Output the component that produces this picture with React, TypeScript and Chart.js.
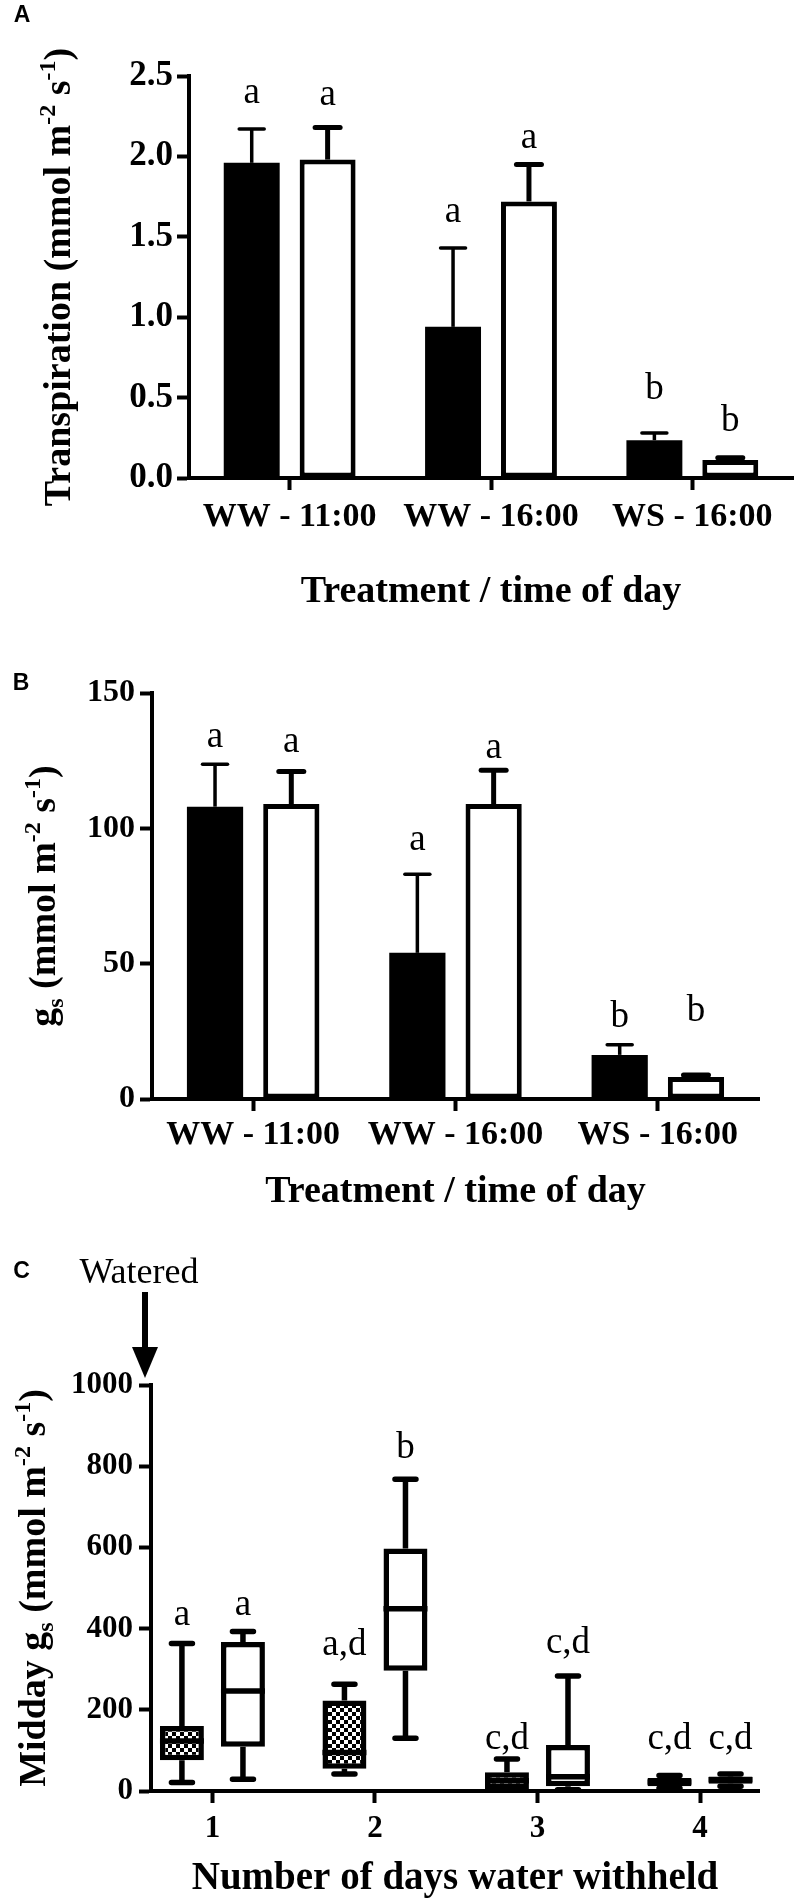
import React, { useEffect, useRef } from "react";
import { Chart, registerables } from "chart.js";

Chart.register(...registerables);

const SERIF = '"Liberation Serif", "Times New Roman", Times, serif';
const SANS = '"Liberation Sans", Arial, Helvetica, sans-serif';

// ---------- Panel A: transpiration ----------
const treatmentLabels = ["WW - 11:00", "WW - 16:00", "WS - 16:00"];
const transpFilled = [1.96, 0.94, 0.235];
const transpFilledSem = [0.21, 0.49, 0.045];
const transpOpen = [1.98, 1.72, 0.112];
const transpOpenSem = [0.2, 0.23, 0.014];
const transpFilledLetters = ["a", "a", "b"];
const transpOpenLetters = ["a", "a", "b"];
const transpFilledLetterY = [2.39, 1.65, 0.55];
const transpOpenLetterY = [2.38, 2.115, 0.35];

// ---------- Panel B: stomatal conductance ----------
const gsFilled = [108, 54, 16.3];
const gsFilledSem = [15.7, 29, 3.7];
const gsOpen = [109, 109, 8.1];
const gsOpenSem = [12, 12.5, 0.8];
const gsFilledLetters = ["a", "a", "b"];
const gsOpenLetters = ["a", "a", "b"];
const gsFilledLetterY = [133.7, 95.7, 30.3];
const gsOpenLetterY = [131.9, 129.7, 32.3];

// ---------- Panel C: midday gs box plots ----------
const dayValues = [1, 2, 3, 4];
const hatchMin = [21, 42, 2, 7];
const hatchQ1 = [76, 55, 5, 12];
const hatchMed = [123, 95, 25, 22];
const hatchQ3 = [160, 223, 46, 32];
const hatchMax = [363, 263, 79, 38];
const hatchLetters = ["a", "a,d", "c,d", "c,d"];
const hatchLetterY = [432, 359, 128, 128];

const openMin = [29, 130, 3, 12];
const openQ1 = [109, 296, 12, 18];
const openMed = [246, 449, 35, 28];
const openQ3 = [367, 597, 113, 36];
const openMax = [393, 768, 283, 42];
const openLetters = ["a", "b", "c,d", "c,d"];
const openLetterY = [457, 843, 365, 128];

type Seg = { t: string; k?: "sup" | "sub" };

const titleA: Seg[] = [
  { t: "Transpiration (mmol m" },
  { t: "-2", k: "sup" },
  { t: " s" },
  { t: "-1", k: "sup" },
  { t: ")" },
];
const titleB: Seg[] = [
  { t: "g" },
  { t: "s", k: "sub" },
  { t: " (mmol m" },
  { t: "-2", k: "sup" },
  { t: " s" },
  { t: "-1", k: "sup" },
  { t: ")" },
];
const titleC: Seg[] = [
  { t: "Midday g" },
  { t: "s", k: "sub" },
  { t: " (mmol m" },
  { t: "-2", k: "sup" },
  { t: " s" },
  { t: "-1", k: "sup" },
  { t: ")" },
];

function drawRotatedRich(ctx: any, segs: Seg[], bx: number, cy: number, size: number) {
  ctx.save();
  ctx.translate(bx, cy);
  ctx.rotate(-Math.PI / 2);
  ctx.fillStyle = "#000";
  ctx.textBaseline = "alphabetic";
  ctx.textAlign = "left";
  const fontFor = (s: Seg) => `bold ${s.k ? Math.round(size * 0.62) : size}px ${SERIF}`;
  let total = 0;
  for (const s of segs) {
    ctx.font = fontFor(s);
    total += ctx.measureText(s.t).width;
  }
  let x = -total / 2;
  for (const s of segs) {
    ctx.font = fontFor(s);
    const dy = s.k === "sup" ? -size * 0.4 : s.k === "sub" ? size * 0.2 : 0;
    ctx.fillText(s.t, x, dy);
    x += ctx.measureText(s.t).width;
  }
  ctx.restore();
}

function drawPanelLabel(ctx: any, text: string, x: number, y: number) {
  ctx.save();
  ctx.fillStyle = "#000";
  ctx.font = `bold 23px ${SANS}`;
  ctx.textAlign = "center";
  ctx.textBaseline = "middle";
  ctx.fillText(text, x, y);
  ctx.restore();
}

function axisGrid(tickLen: number) {
  return {
    display: true,
    drawOnChartArea: false,
    offset: false,
    drawTicks: true,
    tickLength: tickLen,
    tickWidth: 4,
    tickColor: "#000",
    color: "#000",
  };
}
const axisBorder = { display: true, color: "#000", width: 4 };

interface BarPanel {
  canvasH: number;
  area: { left: number; top: number; right: number; bottom: number };
  filled: number[];
  filledSem: number[];
  open: number[];
  openSem: number[];
  filledLetters: string[];
  openLetters: string[];
  filledLetterY: number[];
  openLetterY: number[];
  yMax: number;
  yStep: number;
  decimals: number;
  yTickSize: number;
  yTickPad: number;
  xLabelPad: number;
  xTitlePad: number;
  yTitle: Seg[];
  yTitleX: number;
  panel: string;
  panelX: number;
  panelY: number;
}

function barChartConfig(p: BarPanel): any {
  const annot = {
    id: "annot",
    afterDatasetsDraw(chart: any) {
      const ctx = chart.ctx;
      const ys = chart.scales.y;
      const sets = [
        { vals: p.filled, sem: p.filledSem, lw: 3.5, letters: p.filledLetters, ly: p.filledLetterY },
        { vals: p.open, sem: p.openSem, lw: 5, letters: p.openLetters, ly: p.openLetterY },
      ];
      sets.forEach((s, di) => {
        const meta = chart.getDatasetMeta(di);
        meta.data.forEach((el: any, i: number) => {
          const x = el.x;
          const yTop = ys.getPixelForValue(s.vals[i]);
          const yCap = ys.getPixelForValue(s.vals[i] + s.sem[i]);
          ctx.save();
          ctx.strokeStyle = "#000";
          ctx.lineWidth = s.lw;
          ctx.lineCap = "butt";
          ctx.beginPath();
          ctx.moveTo(x, yTop);
          ctx.lineTo(x, yCap);
          ctx.stroke();
          ctx.lineCap = "round";
          ctx.beginPath();
          ctx.moveTo(x - 12.5, yCap);
          ctx.lineTo(x + 12.5, yCap);
          ctx.stroke();
          ctx.fillStyle = "#000";
          ctx.font = `37px ${SERIF}`;
          ctx.textAlign = "center";
          ctx.textBaseline = "middle";
          ctx.fillText(s.letters[i], x, ys.getPixelForValue(s.ly[i]));
          ctx.restore();
        });
      });
    },
    afterDraw(chart: any) {
      const a = chart.chartArea;
      drawRotatedRich(chart.ctx, p.yTitle, p.yTitleX, (a.top + a.bottom) / 2, 38);
      drawPanelLabel(chart.ctx, p.panel, p.panelX, p.panelY);
    },
  };

  return {
    type: "bar",
    data: {
      labels: treatmentLabels,
      datasets: [
        {
          data: p.filled,
          backgroundColor: "#000",
          borderColor: "#000",
          borderWidth: 0,
          categoryPercentage: 0.754,
          barPercentage: 0.737,
        },
        {
          data: p.open,
          backgroundColor: "#fff",
          borderColor: "#000",
          borderWidth: 5,
          borderSkipped: false,
          categoryPercentage: 0.754,
          barPercentage: 0.737,
        },
      ],
    },
    options: {
      responsive: false,
      animation: false,
      devicePixelRatio: 1,
      layout: { padding: { left: 0, top: p.area.top, right: 800 - p.area.right, bottom: 0 } },
      plugins: { legend: { display: false }, tooltip: { enabled: false }, title: { display: false } },
      scales: {
        x: {
          type: "category",
          offset: true,
          afterFit: (s: any) => {
            s.height = p.canvasH - p.area.bottom;
          },
          grid: axisGrid(12),
          border: axisBorder,
          ticks: {
            color: "#000",
            padding: p.xLabelPad,
            maxRotation: 0,
            autoSkip: false,
            font: { family: SERIF, size: 34, weight: "bold", lineHeight: 1 },
          },
          title: {
            display: true,
            text: "Treatment / time of day",
            color: "#000",
            font: { family: SERIF, size: 38, weight: "bold", lineHeight: 1 },
            padding: { top: 0, bottom: p.xTitlePad },
          },
        },
        y: {
          type: "linear",
          min: 0,
          max: p.yMax,
          afterFit: (s: any) => {
            s.width = p.area.left;
          },
          grid: axisGrid(12),
          border: axisBorder,
          ticks: {
            stepSize: p.yStep,
            color: "#000",
            padding: p.yTickPad,
            font: { family: SERIF, size: p.yTickSize, weight: "bold", lineHeight: 1 },
            callback: (v: any) => Number(v).toFixed(p.decimals),
          },
        },
      },
    },
    plugins: [annot],
  };
}

function makeChecker(): any {
  const c = document.createElement("canvas");
  c.width = 8;
  c.height = 8;
  const g = c.getContext("2d")!;
  g.fillStyle = "#fff";
  g.fillRect(0, 0, 8, 8);
  g.fillStyle = "#000";
  g.fillRect(0, 0, 4, 4);
  g.fillRect(4, 4, 4, 4);
  return g.createPattern(c, "repeat") || "#888";
}

function boxChartConfig(): any {
  const canvasH = 663;
  const area = { left: 151, top: 145, right: 759, bottom: 551 };
  const annot = {
    id: "boxAnnot",
    afterDatasetsDraw(chart: any) {
      const ctx = chart.ctx;
      const ys = chart.scales.y;
      const sets = [
        { min: hatchMin, q1: hatchQ1, med: hatchMed, q3: hatchQ3, max: hatchMax, letters: hatchLetters, ly: hatchLetterY },
        { min: openMin, q1: openQ1, med: openMed, q3: openQ3, max: openMax, letters: openLetters, ly: openLetterY },
      ];
      sets.forEach((s, di) => {
        const meta = chart.getDatasetMeta(di);
        meta.data.forEach((el: any, i: number) => {
          const x = el.x;
          const w = el.width;
          const yMin = ys.getPixelForValue(s.min[i]);
          const yQ1 = ys.getPixelForValue(s.q1[i]);
          const yMed = ys.getPixelForValue(s.med[i]);
          const yQ3 = ys.getPixelForValue(s.q3[i]);
          const yMax = ys.getPixelForValue(s.max[i]);
          ctx.save();
          ctx.strokeStyle = "#000";
          ctx.lineWidth = 5.5;
          ctx.lineCap = "butt";
          ctx.beginPath();
          ctx.moveTo(x, yQ3);
          ctx.lineTo(x, yMax);
          ctx.moveTo(x, yQ1);
          ctx.lineTo(x, yMin);
          ctx.moveTo(x - w / 2, yMed);
          ctx.lineTo(x + w / 2, yMed);
          ctx.stroke();
          ctx.lineCap = "round";
          ctx.beginPath();
          ctx.moveTo(x - 10.5, yMax);
          ctx.lineTo(x + 10.5, yMax);
          ctx.moveTo(x - 10.5, yMin);
          ctx.lineTo(x + 10.5, yMin);
          ctx.stroke();
          ctx.fillStyle = "#000";
          ctx.font = `37px ${SERIF}`;
          ctx.textAlign = "center";
          ctx.textBaseline = "middle";
          ctx.fillText(s.letters[i], x, ys.getPixelForValue(s.ly[i]));
          ctx.restore();
        });
      });
    },
    afterDraw(chart: any) {
      const ctx = chart.ctx;
      const a = chart.chartArea;
      drawRotatedRich(ctx, titleC, 45, (a.top + a.bottom) / 2, 38);
      drawPanelLabel(ctx, "C", 21.5, 32);
      // "Watered" arrow
      const ax = a.left - 6;
      const tip = a.top - 7;
      ctx.save();
      ctx.strokeStyle = "#000";
      ctx.fillStyle = "#000";
      ctx.lineWidth = 6;
      ctx.beginPath();
      ctx.moveTo(ax, tip - 86);
      ctx.lineTo(ax, tip - 26);
      ctx.stroke();
      ctx.beginPath();
      ctx.moveTo(ax - 13, tip - 31);
      ctx.lineTo(ax + 13, tip - 31);
      ctx.lineTo(ax, tip);
      ctx.closePath();
      ctx.fill();
      ctx.font = `36px ${SERIF}`;
      ctx.textAlign = "center";
      ctx.textBaseline = "alphabetic";
      ctx.fillText("Watered", ax - 6, tip - 95);
      ctx.restore();
    },
  };

  const pattern = makeChecker();
  return {
    type: "bar",
    data: {
      datasets: [
        {
          data: dayValues.map((d, i) => ({ x: d, y: [hatchQ1[i], hatchQ3[i]] })),
          backgroundColor: pattern,
          borderColor: "#000",
          borderWidth: 5.5,
          borderSkipped: false,
          categoryPercentage: 0.751,
          barPercentage: 0.72,
        },
        {
          data: dayValues.map((d, i) => ({ x: d, y: [openQ1[i], openQ3[i]] })),
          backgroundColor: "#fff",
          borderColor: "#000",
          borderWidth: 5.5,
          borderSkipped: false,
          categoryPercentage: 0.751,
          barPercentage: 0.72,
        },
      ],
    },
    options: {
      responsive: false,
      animation: false,
      devicePixelRatio: 1,
      layout: { padding: { left: 0, top: area.top, right: 800 - area.right, bottom: 0 } },
      plugins: { legend: { display: false }, tooltip: { enabled: false }, title: { display: false } },
      scales: {
        x: {
          type: "linear",
          min: 0.622,
          max: 4.363,
          offset: false,
          afterBuildTicks: (s: any) => {
            s.ticks = dayValues.map((v) => ({ value: v }));
          },
          afterFit: (s: any) => {
            s.height = canvasH - area.bottom;
          },
          grid: axisGrid(12),
          border: axisBorder,
          ticks: {
            color: "#000",
            padding: 10.5,
            maxRotation: 0,
            autoSkip: false,
            font: { family: SERIF, size: 31, weight: "bold", lineHeight: 1 },
            callback: (v: any) => String(v),
          },
          title: {
            display: true,
            text: "Number of days water withheld",
            color: "#000",
            font: { family: SERIF, size: 39, weight: "bold", lineHeight: 1 },
            padding: { top: 0, bottom: 5 },
          },
        },
        y: {
          type: "linear",
          min: 0,
          max: 1000,
          afterFit: (s: any) => {
            s.width = area.left;
          },
          grid: axisGrid(12),
          border: axisBorder,
          ticks: {
            stepSize: 200,
            color: "#000",
            padding: 6,
            font: { family: SERIF, size: 31, weight: "bold", lineHeight: 1 },
            callback: (v: any) => String(Math.round(Number(v))),
          },
        },
      },
    },
    plugins: [annot],
  };
}

function ChartCanvas({ top, height, build }: { top: number; height: number; build: () => any }) {
  const ref = useRef<HTMLCanvasElement | null>(null);
  useEffect(() => {
    if (!ref.current) return;
    const chart = new Chart(ref.current, build());
    return () => chart.destroy();
  }, []);
  return (
    <div style={{ position: "absolute", left: 0, top, width: 800, height }}>
      <canvas ref={ref} width={800} height={height} style={{ display: "block", width: 800, height }} />
    </div>
  );
}

export default function App() {
  const panelA: BarPanel = {
    canvasH: 640,
    area: { left: 189, top: 76, right: 793, bottom: 478 },
    filled: transpFilled,
    filledSem: transpFilledSem,
    open: transpOpen,
    openSem: transpOpenSem,
    filledLetters: transpFilledLetters,
    openLetters: transpOpenLetters,
    filledLetterY: transpFilledLetterY,
    openLetterY: transpOpenLetterY,
    yMax: 2.5,
    yStep: 0.5,
    decimals: 1,
    yTickSize: 35,
    yTickPad: 4,
    xLabelPad: 10,
    xTitlePad: 29,
    yTitle: titleA,
    yTitleX: 70,
    panel: "A",
    panelX: 22,
    panelY: 16,
  };
  const panelB: BarPanel = {
    canvasH: 600,
    area: { left: 152, top: 53, right: 759, bottom: 459 },
    filled: gsFilled,
    filledSem: gsFilledSem,
    open: gsOpen,
    openSem: gsOpenSem,
    filledLetters: gsFilledLetters,
    openLetters: gsOpenLetters,
    filledLetterY: gsFilledLetterY,
    openLetterY: gsOpenLetterY,
    yMax: 150,
    yStep: 50,
    decimals: 0,
    yTickSize: 32,
    yTickPad: 5,
    xLabelPad: 7,
    xTitlePad: 29,
    yTitle: titleB,
    yTitleX: 55,
    panel: "B",
    panelX: 21,
    panelY: 43.5,
  };
  return (
    <div style={{ position: "absolute", left: 0, top: 0, width: 800, height: 1903, background: "#fff" }}>
      <ChartCanvas top={0} height={640} build={() => barChartConfig(panelA)} />
      <ChartCanvas top={640} height={600} build={() => barChartConfig(panelB)} />
      <ChartCanvas top={1240} height={663} build={() => boxChartConfig()} />
    </div>
  );
}
